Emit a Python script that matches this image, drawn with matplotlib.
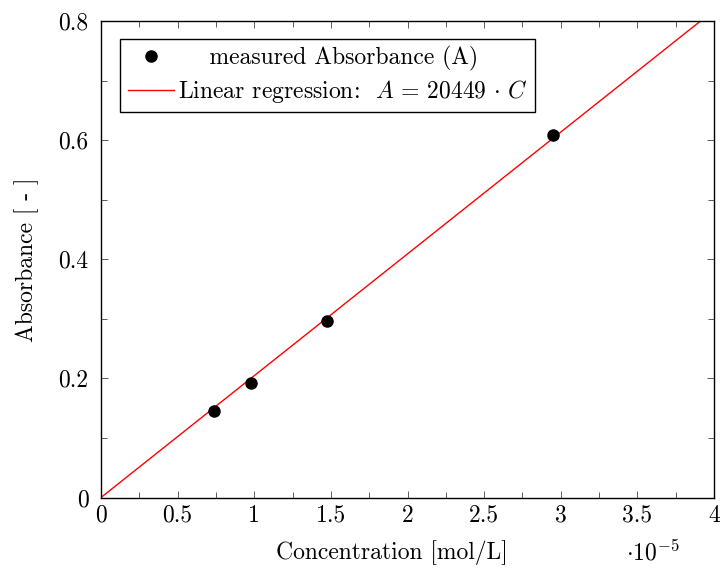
import matplotlib
matplotlib.use("Agg")
import matplotlib.pyplot as plt
import numpy as np

plt.rcParams["font.family"] = "serif"
plt.rcParams["font.serif"] = ["cmr10"]
plt.rcParams["mathtext.fontset"] = "cm"
plt.rcParams["axes.formatter.use_mathtext"] = True

# Measured calibration data
concentration = [0.735e-5, 0.98e-5, 1.475e-5, 2.95e-5]   # mol/L
absorbance = [0.145, 0.193, 0.296, 0.609]

# Linear regression through the origin
slope = 20449
x_ticks = [0, 0.5, 1, 1.5, 2, 2.5, 3, 3.5, 4]
y_ticks = [0, 0.2, 0.4, 0.6, 0.8]

FS = 17

fig = plt.figure(figsize=(7.22, 5.70), dpi=100)
ax = fig.add_axes([101 / 722, 1 - 497.5 / 570, 613 / 722, 476.5 / 570])

c_fit = np.array([0, 0.8 / slope])
ax.plot(c_fit, slope * c_fit, color="red", lw=1.0,
        label=r"Linear regression:  $A\,=\,20449\,\cdot\,C$", zorder=2)
ax.plot(concentration, absorbance, "o", color="black", ms=8, ls="none",
        label="    measured Absorbance (A)", zorder=3)

ax.set_xlim(0, 4e-5)
ax.set_ylim(0, 0.8)
ax.set_xticks([t * 1e-5 for t in x_ticks])
ax.set_xticklabels([f"{t:g}" for t in x_ticks])
ax.set_yticks(y_ticks)
ax.set_yticklabels([f"{t:g}" for t in y_ticks])
ax.set_xticks(np.arange(0.25, 4, 0.5) * 1e-5, minor=True)
ax.set_yticks(np.arange(0.1, 0.8, 0.2), minor=True)

ax.tick_params(which="both", direction="in", top=True, right=True,
               labelsize=FS, width=0.6, color="#444444")
ax.tick_params(which="major", length=5)
ax.tick_params(which="minor", length=4)
ax.tick_params(axis="x", which="major", pad=5)
ax.tick_params(axis="y", which="major", pad=9)
for s in ax.spines.values():
    s.set_linewidth(1.0)

ax.set_xlabel("Concentration [mol/L]", fontsize=FS)
ax.xaxis.set_label_coords(0.475, -0.09)
ax.set_ylabel("Absorbance [ - ]", fontsize=FS)
ax.yaxis.set_label_coords(-0.101, 0.5)
ax.text(0.90, -0.116, r"$\cdot 10^{-5}$", transform=ax.transAxes,
        fontsize=FS, ha="center", va="center")

handles, labels = ax.get_legend_handles_labels()
leg = ax.legend(handles[::-1], labels[::-1], loc="upper left",
                bbox_to_anchor=(0.031, 0.963), fontsize=FS, frameon=True,
                fancybox=False, edgecolor="black", framealpha=1,
                borderpad=0.32, handlelength=1.95, labelspacing=0.28,
                handletextpad=0.2, borderaxespad=0)
leg.get_frame().set_linewidth(1.0)

fig.savefig("out.png", dpi=100)
